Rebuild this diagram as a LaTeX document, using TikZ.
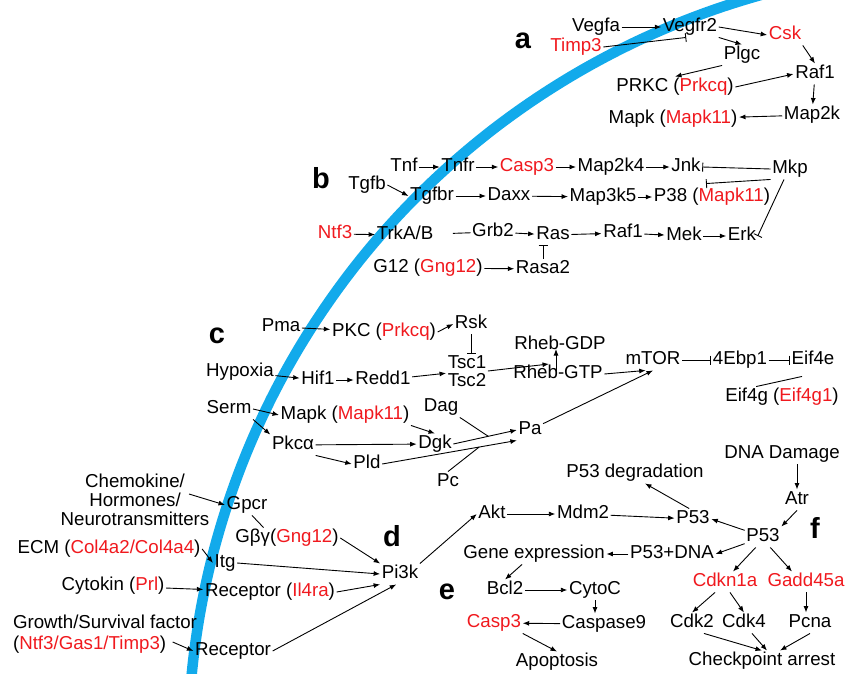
\documentclass[tikz,border=0pt]{standalone}
\usepackage{fontspec}
\setmainfont{Liberation Sans}
\usetikzlibrary{arrows.meta,calc}
\definecolor{memb}{RGB}{18,170,235}
\definecolor{gred}{RGB}{240,25,30}
\newcommand{\rd}[1]{\textcolor{gred}{#1}}
\begin{document}
\begin{tikzpicture}[x=1pt,y=-1pt,
 every node/.style={font=\fontsize{18.7}{20}\selectfont, inner sep=1.5pt, text height=13.5pt, text depth=4pt},
 multi/.style={text height=, text depth=},
 lbl/.style={font=\fontsize{29}{30}\selectfont\bfseries},
 arr/.style={-{Latex[length=6.5pt,width=5pt]}, line width=0.9pt},
 inh/.style={-{Bar[width=9pt]}, line width=0.9pt},
 ln/.style={line width=0.9pt}]
\useasboundingbox (0,0) rectangle (846,674);
\clip (0,0) rectangle (846,674);
% membrane
\draw[memb, line width=10.5pt] plot[domain=183:256, samples=80, smooth] ({972+784*cos(\x)},{750+784*sin(\x)});

\begin{scope}[yshift=-2pt]
% ---------- a ----------
\node[lbl] (la) at (523,42) {a};
\node (vegfa) at (596,25) {Vegfa};
\node (vegfr2) at (690,25) {Vegfr2};
\node (csk) at (785,33) {\rd{Csk}};
\node (timp3) at (576,45) {\rd{Timp3}};
\node (plgc) at (742,53) {Plgc};
\node (raf1a) at (815,72) {Raf1};
\node (prkc) at (675,85) {PRKC (\rd{Prkcq})};
\node (map2k) at (812,113) {Map2k};
\node (mapka) at (673,117) {Mapk (\rd{Mapk11})};
\draw[arr] (vegfa) -- (vegfr2);
\draw[arr] (vegfr2.east) -- (csk.west);
\draw[arr] (vegfr2.south east) -- (plgc.north);
\draw[inh] (timp3.east) -- (vegfr2.250);
\draw[arr] (plgc.south west) -- (prkc.north);
\draw[arr] (prkc.east) -- (raf1a.west);
\draw[arr] (csk.south east) -- (raf1a.north);
\draw[arr] (raf1a) -- (map2k);
\draw[arr] (map2k) -- (mapka);

% ---------- b ----------
\node[lbl] (lb) at (321,182) {b};
\node (tnf) at (404,165) {Tnf};
\node (tnfr) at (458,165) {Tnfr};
\node (casp3b) at (527,165) {\rd{Casp3}};
\node (map2k4) at (611,165) {Map2k4};
\node (jnk) at (686,165) {Jnk};
\node (mkp) at (790,167) {Mkp};
\node (tgfb) at (367,183) {Tgfb};
\node (tgfbr) at (432,194) {Tgfbr};
\node (daxx) at (509,194) {Daxx};
\node (map3k5) at (603,195) {Map3k5};
\node (p38) at (712,195) {P38 (\rd{Mapk11})};
\node (ntf3) at (335,232) {\rd{Ntf3}};
\node (trkab) at (405,233) {TrkA/B};
\node (grb2) at (493,230) {Grb2};
\node (ras) at (553,233) {Ras};
\node (raf1b) at (623,231) {Raf1};
\node (mek) at (684,234) {Mek};
\node (erk) at (742,234) {Erk};
\node (g12) at (428,266) {G12 (\rd{Gng12})};
\node (rasa2) at (543,267) {Rasa2};
\draw[arr] (tnf) -- (tnfr);
\draw[arr] (tnfr) -- (casp3b);
\draw[arr] (casp3b) -- (map2k4);
\draw[arr] (map2k4) -- (jnk);
\draw[inh] (mkp.west) -- (jnk.east);
\draw[inh] (mkp.south west) -- ($(p38.north)+(-6,-3)$);
\draw[inh] ($(mkp.south)+(-6,0)$) -- (erk.east);
\draw[arr] (tgfb.east) -- (tgfbr.west);
\draw[arr] (tgfbr) -- (daxx);
\draw[arr] (daxx) -- (map3k5);
\draw[arr] (map3k5) -- (p38);
\draw[arr] (ntf3) -- (trkab);
\draw[ln, shorten <=18pt] (trkab) -- (grb2);
\draw[arr] (grb2) -- (ras);
\draw[arr] (ras) -- (raf1b);
\draw[arr] (raf1b) -- (mek);
\draw[arr] (mek) -- (erk);
\draw[inh] (rasa2.north) -- (rasa2.north |- ras.south);
\draw[arr] (g12) -- (rasa2);

% ---------- c ----------
\node[lbl] (lc) at (217,337) {c};
\node (pma) at (281,325) {Pma};
\node (pkc) at (384,330) {PKC (\rd{Prkcq})};
\node (rsk) at (471,322) {Rsk};
\node[multi, align=center, font=\fontsize{18.7}{18}\selectfont] (tsc) at (467,369) {Tsc1\\Tsc2};
\node (hypoxia) at (240,370) {Hypoxia};
\node (hif1) at (318,378) {Hif1};
\node (redd1) at (383,378) {Redd1};
\node (rhebgdp) at (560,343) {Rheb-GDP};
\node (rhebgtp) at (558,372) {Rheb-GTP};
\node (mtor) at (653,358) {mTOR};
\node (ebp) at (740,358) {4Ebp1};
\node (eif4e) at (813,358) {Eif4e};
\node (eif4g) at (782,395) {Eif4g (\rd{Eif4g1})};
\node (serm) at (229,407) {Serm};
\node (mapkc) at (345,413) {Mapk (\rd{Mapk11})};
\node (dag) at (441,405) {Dag};
\node (pkca) at (293,443) {Pkcα};
\node (dgk) at (435,442) {Dgk};
\node (pa) at (530,428) {Pa};
\node (pld) at (367,462) {Pld};
\node (pc) at (448,480) {Pc};
\coordinate (rj) at (549,362);
\coordinate (dj) at ($(dgk.east)!0.55!(pa.west)$);
\coordinate (pj) at ($(pld.east)!0.72!(pa.south west)$);
\draw[arr] (pma) -- (pkc);
\draw[arr] (pkc.east) -- (rsk.west);
\draw[inh] (rsk.south) -- (rsk.south |- tsc.north);
\draw[arr] (hypoxia) -- (hif1);
\draw[arr] (hif1) -- (redd1);
\draw[arr] (redd1) -- (tsc);
\draw[arr] (tsc.east) -- (rj);
\draw[arr] ($(rhebgtp.center)+(-2,-2)$) -- ($(rhebgdp.center)+(-4,4)$);
\draw[arr] (rhebgtp.east) -- (mtor.235);
\draw[arr] (pa) -- (mtor.south);
\draw[inh] (mtor) -- (ebp);
\draw[inh] (ebp) -- (eif4e);
\draw[ln] (eif4g.158) -- ($(eif4e.south)+(-11,6)$);
\draw[arr] (serm.east) -- (mapkc.west);
\draw[arr] (serm.south east) -- (pkca.north west);
\draw[arr] (mapkc.south east) -- (dgk.north);
\draw[arr] (pkca) -- (dgk);
\draw[arr] (pkca.south east) -- (pld.west);
\draw[arr] (dgk.east) -- (pa.west);
\draw[ln] (dag.south east) -- (dj);
\draw[arr] (pld.east) -- (pa.south west);
\draw[ln] (pc.north) -- (pj);

% ---------- d ----------
\node[multi, align=center, font=\fontsize{18.7}{19}\selectfont] (chemo) at (135,498) {Chemokine/\\Hormones/\\Neurotransmitters};
\node (gpcr) at (247,503) {Gpcr};
\node (gbg) at (287,536) {Gβγ(\rd{Gng12})};
\node[lbl] (ld) at (392,540) {d};
\node (pi3k) at (400,572) {Pi3k};
\node (ecm) at (109,547) {ECM (\rd{Col4a2/Col4a4})};
\node (itg) at (225,561) {Itg};
\node (cyto) at (113,584) {Cytokin (\rd{Prl})};
\node (rec1) at (270,590) {Receptor (\rd{Il4ra})};
\node[multi, align=left, font=\fontsize{18.7}{21}\selectfont] (growth) at (105,632) {Growth/Survival factor\\(\rd{Ntf3/Gas1/Timp3})};
\node (rec2) at (233,649) {Receptor};
\draw[arr] ($(chemo.east)+(-22,-6)$) -- (gpcr.west);
\draw[ln] ($(gpcr.south)+(5,0)$) -- ($(gbg.north west)!0.28!(gbg.north east)$);
\draw[arr] (gbg.east) -- (pi3k.north west);
\draw[arr] (ecm.east) -- (itg.west);
\draw[arr] (itg.east) -- (pi3k.west);
\draw[arr] (cyto) -- (rec1);
\draw[arr] (rec1.east) -- (pi3k.south west);
\draw[arr] ($(growth.east)+(-26,8)$) -- (rec2.west);
\draw[arr] (rec2.east) -- (pi3k.250);

% ---------- e / f ----------
\node (akt) at (492,512) {Akt};
\node (mdm2) at (583,512) {Mdm2};
\node (p53a) at (693,517) {P53};
\node (p53deg) at (635,471) {P53 degradation};
\node (p53) at (763,535) {P53};
\node (dna) at (782,452) {DNA Damage};
\node (atr) at (797,498) {Atr};
\node[lbl] (lf) at (815,532) {f};
\node (p53dna) at (672,552) {P53+DNA};
\node (gene) at (534,552) {Gene expression};
\node (bcl2) at (505,588) {Bcl2};
\node (cytoc) at (595,588) {CytoC};
\node[lbl] (le) at (447,593) {e};
\node (casp3e) at (494,621) {\rd{Casp3}};
\node (casp9) at (604,622) {Caspase9};
\node (apop) at (557,660) {Apoptosis};
\node (cdkn1a) at (725,580) {\rd{Cdkn1a}};
\node (gadd) at (806,580) {\rd{Gadd45a}};
\node (cdk2) at (692,621) {Cdk2};
\node (cdk4) at (744,621) {Cdk4};
\node (pcna) at (810,621) {Pcna};
\node (check) at (762,659) {Checkpoint arrest};
\draw[arr] (pi3k.north east) -- (akt.west);
\draw[arr] (akt) -- (mdm2);
\draw[arr] (mdm2) -- (p53a);
\draw[arr] (p53a.110) -- ($(p53deg.south)+(10,0)$);
\draw[arr] (p53.160) -- (p53a.east);
\draw[arr] (p53.200) -- (p53dna.east);
\draw[arr] (p53dna) -- (gene);
\draw[arr] ($(gene.south)+(-12,0)$) -- (bcl2.north);
\draw[arr] (bcl2) -- (cytoc);
\draw[arr] (cytoc.south) -- (cytoc.south |- casp9.north);
\draw[arr] (casp9) -- (casp3e);
\draw[arr] (casp3e.south east) -- (apop.north);
\draw[arr] (dna.south -| atr.north) -- (atr.north);
\draw[arr] (atr.south) -- (p53.north east);
\draw[arr] (p53.235) -- ($(cdkn1a.north)+(8,0)$);
\draw[arr] (p53.305) -- ($(gadd.north)+(-14,0)$);
\draw[arr] ($(cdkn1a.south)+(-10,0)$) -- (cdk2.north);
\draw[arr] ($(cdkn1a.south)+(5,0)$) -- (cdk4.north);
\draw[arr] (gadd.south) -- (gadd.south |- pcna.north);
\draw[arr] ($(cdk2.south)+(12,0)$) -- (check.north);
\draw[arr] ($(cdk4.south)+(8,0)$) -- ($(check.north)+(5,0)$);
\draw[arr] (pcna.south) -- ($(check.north)+(18,0)$);
\end{scope}
\end{tikzpicture}
\end{document}
